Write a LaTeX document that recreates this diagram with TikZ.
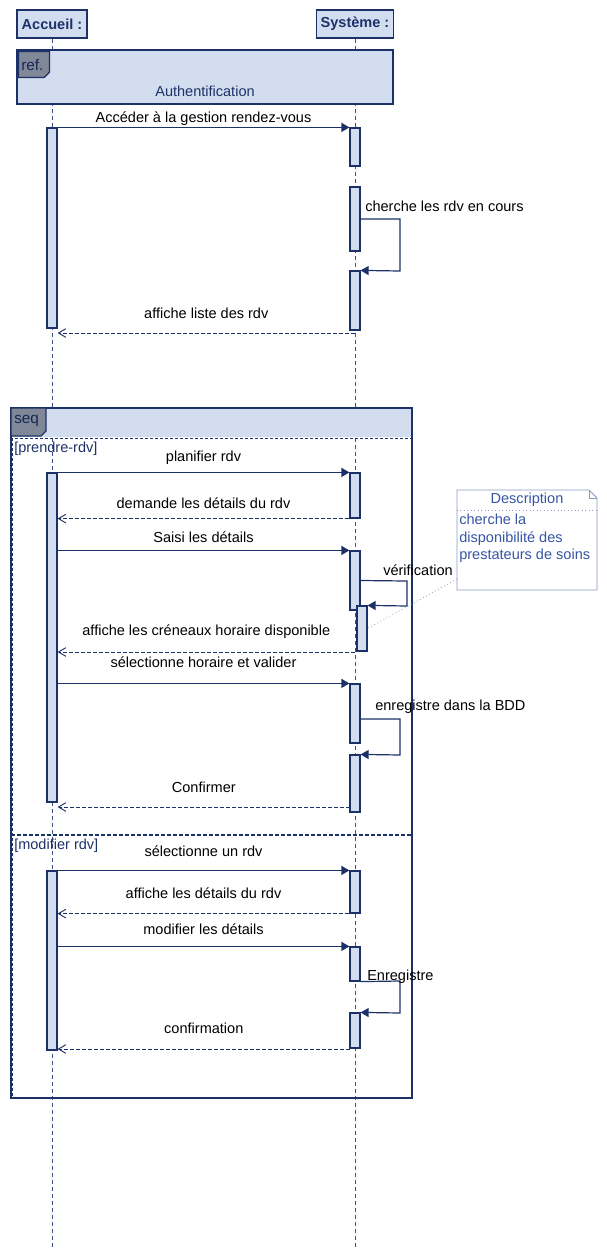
\documentclass[tikz,border=0pt]{standalone}
\usepackage{fontspec}
\setmainfont{Liberation Sans}
\usetikzlibrary{positioning, arrows.meta, fit, calc}

\definecolor{umlline}{RGB}{28,49,104}
\definecolor{umlfill}{RGB}{211,221,240}
\definecolor{umltab}{RGB}{128,136,152}
\definecolor{notecol}{RGB}{140,155,195}
\definecolor{notetext}{RGB}{55,85,165}
\newlength\px
\setlength\px{0.75pt}

\begin{document}
\begin{tikzpicture}[%
		x=\px, y=-\px,
		font=\fontsize{10.9}{13}\selectfont,
		header/.style={
			rectangle,
			minimum height=28\px,
			inner sep=0pt,
			line width=0.9pt,
			draw=umlline,
			fill=umlfill,
			text=umlline,
			font=\fontsize{10.9}{13}\selectfont\bfseries
		},
		lifeline/.style={
			draw=umlline!85,
			line width=0.6pt,
			dash pattern=on 3pt off 2.25pt
		},
		activation/.style={
			rectangle,
			inner sep=0pt,
			line width=0.9pt,
			draw=umlline,
			fill=umlfill
		},
		refframe/.style={
			rectangle,
			inner sep=0pt,
			line width=0.9pt,
			draw=umlline,
			fill=umlfill
		},
		tab/.style={
			line width=0.9pt,
			draw=umlline,
			fill=umltab
		},
		tablabel/.style={
			anchor=west,
			inner sep=0pt,
			text=umlline!80!black,
			font=\fontsize{11.5}{13}\selectfont
		},
		guard/.style={
			anchor=west,
			inner sep=0pt,
			text=umlline
		},
		call/.style={
			line width=0.9pt,
			draw=umlline,
			-{Triangle[length=6pt,width=6.75pt]}
		},
		reply/.style={
			line width=0.7pt,
			draw=umlline,
			dash pattern=on 3pt off 1.5pt,
			-{Straight Barb[length=5.5pt,width=6.5pt]}
		},
		msglabel/.style={
			midway,
			anchor=center,
			inner sep=0pt
		},
		selflabel/.style={
			anchor=west,
			inner sep=0pt
		},
		notebox/.style={
			line width=0.6pt,
			draw=notecol
		},
		notelabel/.style={
			inner sep=0pt,
			text=notetext
		}]

		\useasboundingbox (0,0) rectangle (607,1258);

		% LIFELINES

		\node (accueil) [header, minimum width=70\px] at (52,24) {Accueil :};
		\node (systeme) [header, minimum width=77\px] at (355,24) {Système :};
		\coordinate (accueil-end) at (52,1247);
		\coordinate (systeme-end) at (355,1247);
		\draw[lifeline] (accueil) -- (accueil-end);
		\draw[lifeline] (systeme) -- (systeme-end);

		% AUTHENTIFICATION

		\node (ref) [refframe, fit={(17,50) (393,104)}] {};
		\draw[tab] ([shift={(2,2)}]ref.north west) -- ++(31,0) -- ++(0,21) -- ++(-5,5) -- ++(-26,0) -- cycle;
		\node (ref-tag) [tablabel] at (21,65) {ref.};
		\node (ref-name) [notelabel, text=umlline] at (205,91) {Authentification};

		\node (a1) [activation, fit={(47,128) (57,328)}] {};
		\node (s1) [activation, fit={(350,128) (360,166)}] {};
		\node (s2) [activation, fit={(350,187) (360,251)}] {};
		\node (s3) [activation, fit={(350,271) (360,330)}] {};

		\draw[call] (a1.north east) -- node[msglabel, yshift=9\px] {Accéder à la gestion rendez-vous} (s1.north west);
		\coordinate (loop1-top) at (400,219);
		\coordinate (loop1-bot) at (400,271);
		\draw[call] (s2.east) -- (loop1-top) -- (loop1-bot) -- (s3.north east);
		\node (loop1-label) [selflabel] at (365,206) {cherche les rdv en cours};
		\coordinate (reply1) at (355,333);
		\draw[reply] (reply1) -- node[msglabel, yshift=20\px] {affiche liste des rdv} (reply1 -| a1.east);

		% SEQ FRAME

		\fill[umlfill] (11,408) rectangle (412,437);
		\draw[line width=0.9pt, umlline] (11,408) rectangle (412,1098);
		\draw[line width=0.7pt, umlline, dash pattern=on 2.25pt off 1.5pt] (12,438) rectangle (411,1097);
		\draw[tab] (11,408) -- ++(35,0) -- ++(0,23) -- ++(-5,5) -- ++(-30,0) -- cycle;
		\node (seq-tag) [tablabel] at (14,421) {seq};
		\node (guard1) [guard] at (14,449) {[prendre-rdv]};
		\draw[line width=1.1pt, umlline, dash pattern=on 3pt off 1.5pt] (11,835) -- (412,835);
		\node (guard2) [guard] at (14,846) {[modifier rdv]};

		% PRENDRE-RDV

		\node (a2) [activation, fit={(47,473) (57,802)}] {};
		\node (s4) [activation, fit={(350,473) (360,518)}] {};
		\node (s5) [activation, fit={(350,551) (360,610)}] {};
		\node (v1) [activation, fit={(357,606) (367,651)}] {};
		\node (s7) [activation, fit={(350,684) (360,743)}] {};
		\node (s8) [activation, fit={(350,755) (360,812)}] {};

		\draw[call] (a2.north east) -- node[msglabel, yshift=15\px] {planifier rdv} (s4.north west);
		\draw[reply] (s4.south west) -- node[msglabel, yshift=15\px] {demande les détails du rdv} (s4.south west -| a2.east);
		\draw[call] (s5.north west -| a2.east) -- node[msglabel, yshift=13\px] {Saisi les détails} (s5.north west);
		\coordinate (loop2-top) at (407,581);
		\coordinate (loop2-bot) at (407,606);
		\draw[call] (s5.east) -- (loop2-top) -- (loop2-bot) -- (v1.north east);
		\node (loop2-label) [selflabel] at (383,570) {vérification};
		\coordinate (reply2) at (355,652);
		\draw[reply] (reply2) -- node[msglabel, yshift=20\px] {affiche les créneaux horaire disponible} (reply2 -| a2.east);
		\draw[call] (s7.north west -| a2.east) -- node[msglabel, yshift=21\px] {sélectionne horaire et valider} (s7.north west);
		\coordinate (loop3-top) at (400,719);
		\coordinate (loop3-bot) at (400,755);
		\draw[call] (loop3-top -| s7.east) -- (loop3-top) -- (loop3-bot) -- (s8.north east);
		\node (loop3-label) [selflabel] at (375,707) {enregistre dans la BDD};
		\coordinate (reply3) at (350,807);
		\draw[reply] (reply3) -- node[msglabel, yshift=20\px] {Confirmer} (reply3 -| a2.east);

		% NOTE

		\draw[notebox, fill=white] (457,490) -- (589,490) -- (597,498) -- (597,590) -- (457,590) -- cycle;
		\draw[notebox] (589,490) -- (589,498) -- (597,498);
		\draw[notebox, dotted] (457,510) -- (597,510);
		\node (note-title) [notelabel] at (527,500) {Description};
		\node (note-body) [notelabel, anchor=north west, align=left] at (459,514) {cherche la\\disponibilité des\\prestateurs de soins};
		\coordinate (note-link) at (457,579);
		\draw[notebox, dotted] (note-link) -- (v1.east);

		% MODIFIER RDV

		\node (a3) [activation, fit={(47,871) (57,1050)}] {};
		\node (s9) [activation, fit={(350,871) (360,913)}] {};
		\node (s10) [activation, fit={(350,947) (360,981)}] {};
		\node (s11) [activation, fit={(350,1013) (360,1048)}] {};

		\draw[call] (a3.north east) -- node[msglabel, yshift=19\px] {sélectionne un rdv} (s9.north west);
		\draw[reply] (s9.south west) -- node[msglabel, yshift=20\px] {affiche les détails du rdv} (s9.south west -| a3.east);
		\draw[call] (s10.north west -| a3.east) -- node[msglabel, yshift=17\px] {modifier les détails} (s10.north west);
		\coordinate (loop4-top) at (400,981);
		\coordinate (loop4-bot) at (400,1013);
		\draw[call] (s10.south east) -- (loop4-top) -- (loop4-bot) -- (s11.north east);
		\node (loop4-label) [selflabel] at (367,977) {Enregistre};
		\coordinate (reply4) at (350,1049);
		\draw[reply] (reply4) -- node[msglabel, yshift=21\px] {confirmation} (reply4 -| a3.east);
\end{tikzpicture}
\end{document}
